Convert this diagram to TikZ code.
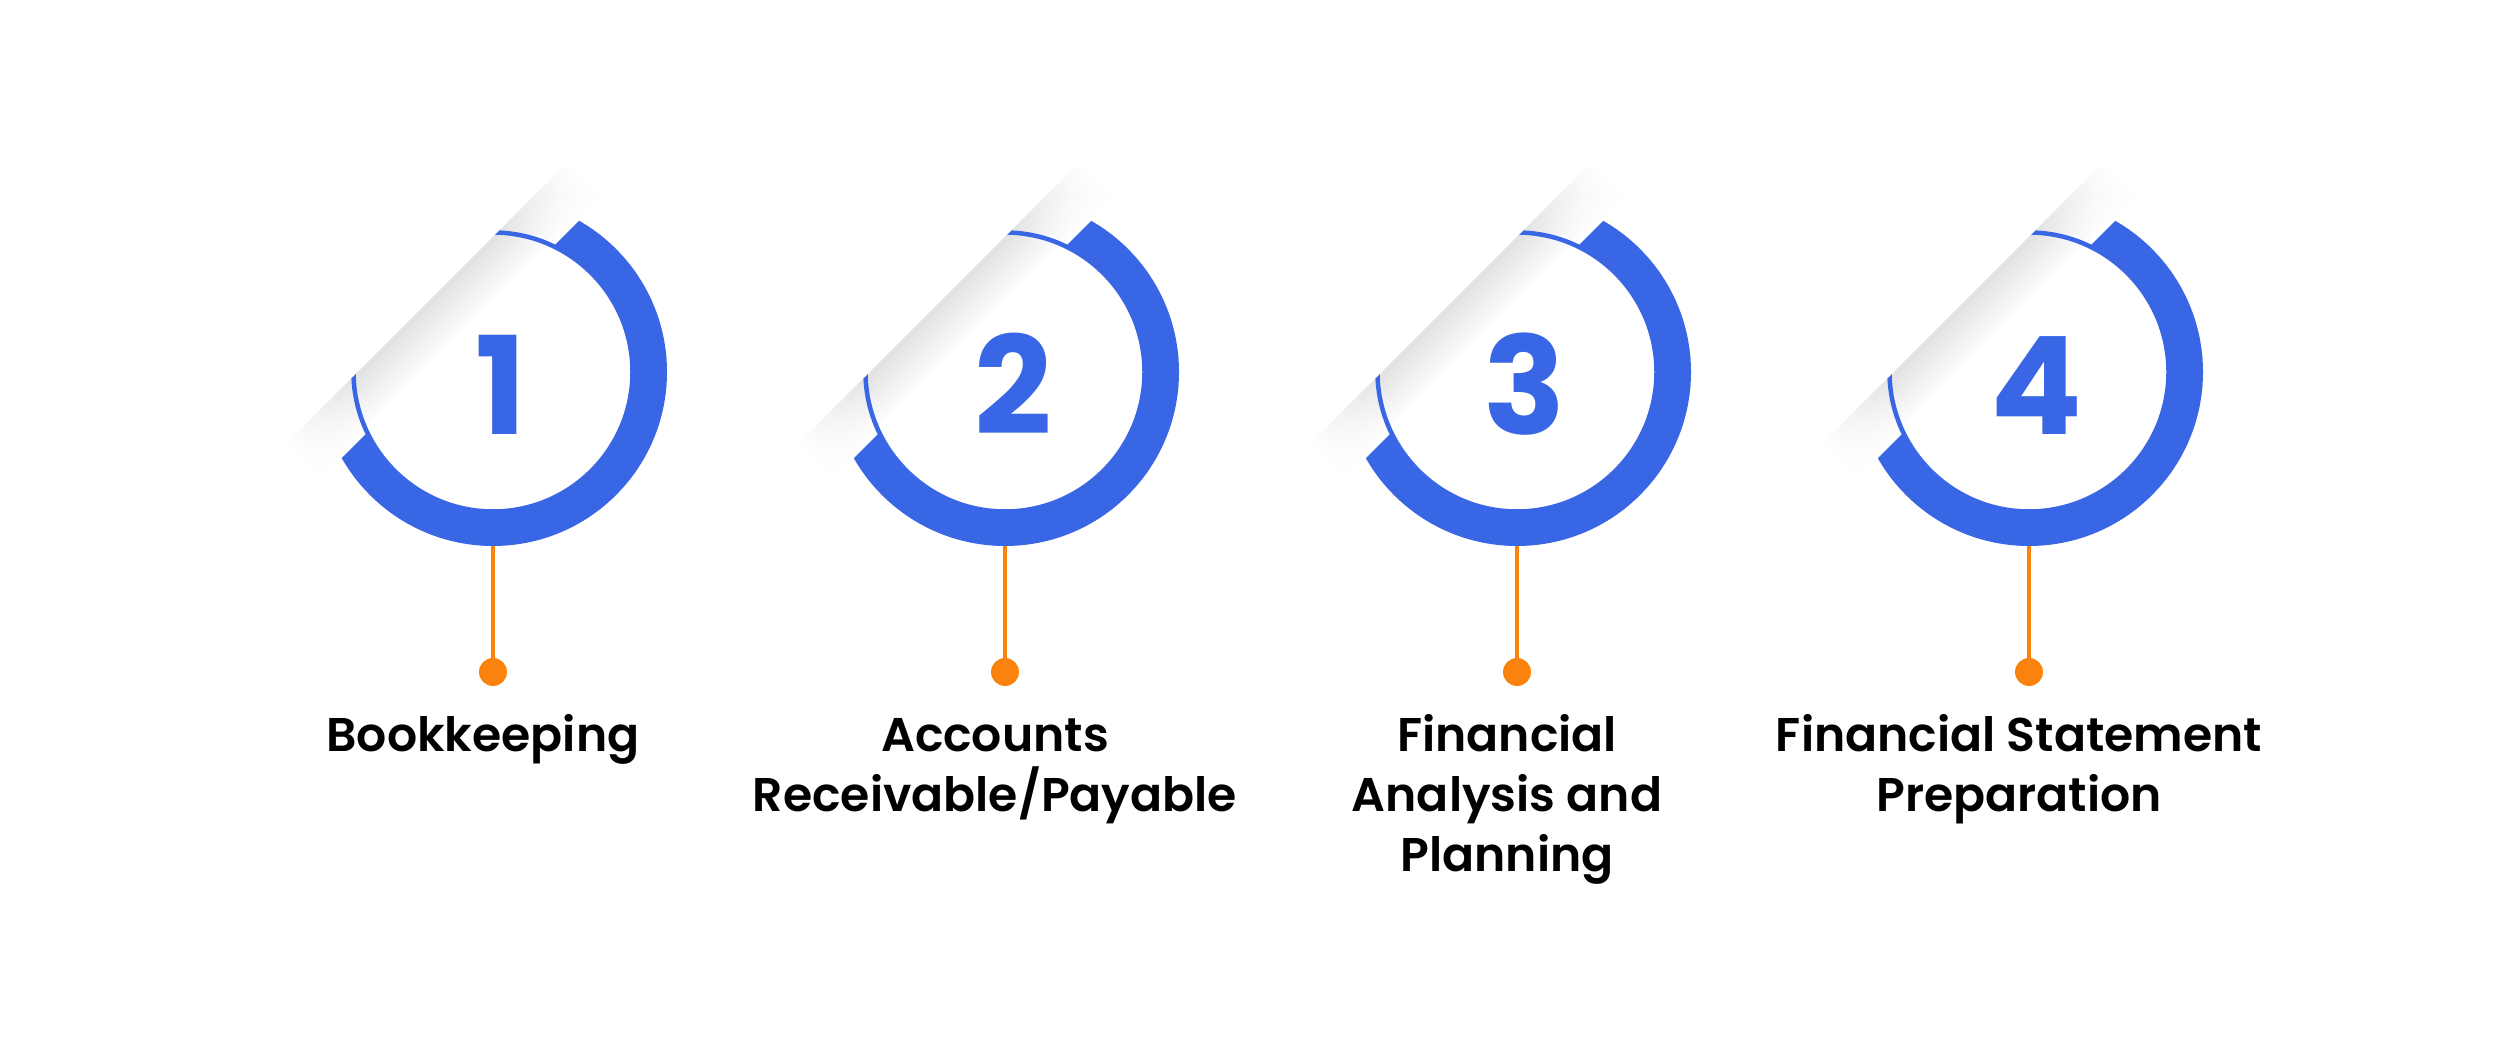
\documentclass[tikz,border=0pt]{standalone}
\usepackage{fontspec}
\setmainfont{Poppins}[BoldFont={Poppins SemiBold}]
\newfontfamily\numfont{Poppins Bold}
\usetikzlibrary{fadings}
\definecolor{ringblue}{RGB}{57,102,228}
\definecolor{dotorange}{RGB}{250,131,14}
\definecolor{shadowgray}{RGB}{226,226,226}
\pgfdeclarehorizontalshading{endsmask}{100bp}{color(0bp)=(black); color(25bp)=(black); color(37bp)=(white); color(63bp)=(white); color(75bp)=(black); color(100bp)=(black)}
\pgfdeclarefading{fadeends}{\pgfuseshading{endsmask}}
\tikzset{
  ringnode/.style={circle, minimum size=348pt, inner sep=0pt, draw=none},
  dotnode/.style={circle, minimum size=28pt, inner sep=0pt, fill=dotorange},
  stem/.style={draw=dotorange, line width=4pt},
  digit/.style={anchor=base, inner sep=0pt, text=ringblue, font=\fontsize{136}{136}\numfont},
  label/.style={anchor=base, inner sep=0pt, align=center, text=black, font=\fontsize{47.3}{60}\selectfont\bfseries}
}
\begin{document}
\begin{tikzpicture}[x=1pt,y=1pt]
\useasboundingbox (0,0) rectangle (2501,1042);
\fill[white] (0,0) rectangle (2501,1042);
\foreach \i/\cx/\ty/\txt in {1/493/290/{Bookkeeping},2/1005/230/{Accounts\\Receivable/Payable},3/1517/170/{Financial\\Analysis and\\Planning},4/2029/230/{Financial Statement\\Preparation}}{
  % shadow band
  \begin{scope}[transform canvas={shift={(\cx,670)}, rotate=45}]
    \shade[top color=shadowgray, bottom color=white, path fading=fadeends] (-195,48) rectangle (200,95.5);
  \end{scope}
  % thick ring
  \begin{scope}
    \clip (\cx-400,670-335) -- (\cx+400,670+465) -- (\cx+400,670-400) -- (\cx-400,670-400) -- cycle;
    \fill[ringblue, even odd rule] (\cx,670) circle (174) (\cx,670) circle (138);
  \end{scope}
  % thin ring
  \begin{scope}
    \clip (\cx-400,670-265) -- (\cx+400,670+535) -- (\cx+400,670-400) -- (\cx-400,670-400) -- cycle;
    \draw[ringblue, line width=4.5pt] (\cx,670) circle (139.5);
  \end{scope}
  \node[ringnode] (c\i) at (\cx,670) {};
  \node[digit] (n\i) at (\cx+8,607) {\i};
  \node[dotnode] (d\i) at (\cx,370) {};
  \draw[stem] (c\i.south) -- (d\i.center);
  \node[label] (t\i) at (\cx-10,\ty) {\txt};
}
\end{tikzpicture}
\end{document}
